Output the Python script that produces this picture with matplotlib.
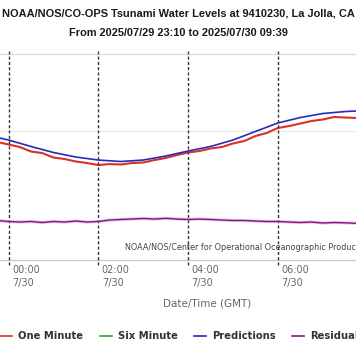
import matplotlib
matplotlib.use("Agg")
import matplotlib.pyplot as plt
import matplotlib.transforms as mtransforms
from matplotlib.lines import Line2D
import pandas as pd

# hours after 2025-07-30 00:00 GMT (visible part of the chart only)
pred_hours = [-0.2, 0.0, 0.5, 1.0, 1.5, 2.0, 2.5, 3.0, 3.5, 4.0, 4.5, 5.0,
              5.5, 6.0, 6.5, 7.0, 7.5, 7.75]
predictions = [2.909, 2.883, 2.799, 2.721, 2.662, 2.623, 2.604, 2.623, 2.675,
               2.740, 2.799, 2.883, 2.994, 3.104, 3.175, 3.227, 3.253, 3.260]

obs_hours = [-0.2, 0.0, 0.25, 0.5, 0.75, 1.0, 1.25, 1.5, 1.75, 2.0, 2.25, 2.5,
             2.75, 3.0, 3.25, 3.5, 3.75, 4.0, 4.25, 4.5, 4.75, 5.0, 5.25, 5.5,
             5.75, 6.0, 6.25, 6.5, 6.75, 7.0, 7.25, 7.5, 7.75]
one_minute = [2.851, 2.825, 2.792, 2.734, 2.714, 2.656, 2.636, 2.604, 2.584,
              2.558, 2.571, 2.565, 2.584, 2.591, 2.623, 2.649, 2.688, 2.721,
              2.740, 2.773, 2.792, 2.838, 2.870, 2.935, 2.974, 3.039, 3.065,
              3.097, 3.130, 3.149, 3.182, 3.175, 3.169]
residual = [-0.048, -0.058, -0.065, -0.058, -0.071, -0.058, -0.065, -0.052,
            -0.065, -0.058, -0.039, -0.032, -0.026, -0.019, -0.026, -0.017,
            -0.026, -0.032, -0.026, -0.032, -0.039, -0.045, -0.045, -0.052,
            -0.058, -0.058, -0.065, -0.071, -0.065, -0.078, -0.071, -0.075,
            -0.082]

tick_hours = [0, 2, 4, 6]
tick_labels = ["00:00", "02:00", "04:00", "06:00"]
tick_dates = ["7/30", "7/30", "7/30", "7/30"]

legend_names = ["One Minute", "Six Minute", "Predictions", "Residual"]
colors = {"One Minute": "#d9302b", "Six Minute": "#3a9a3a",
          "Predictions": "#2a2ab8", "Residual": "#7a1f7a"}

base = pd.Timestamp("2025-07-30 00:00")
def to_time(h):
    return base + pd.to_timedelta(h, unit="h")

W, H = 356, 364
fig = plt.figure(figsize=(W / 100, H / 100), dpi=100)
ax = fig.add_axes([0, 1 - 260 / H, 1, 206 / H])
ax.set_xlim(to_time(-0.19), to_time(7.74))
ax.set_ylim(1.325, 4.0)
for s in ax.spines.values():
    s.set_visible(False)
ax.set_xticks([])
ax.set_yticks([])
ax.axhline(3.0, color="#e6e6e6", lw=0.8, zorder=0)
ax.axhline(4.0, color="#dddddd", lw=1.0, zorder=0, clip_on=False)
ax.axhline(1.325, color="#cccccc", lw=1.0, zorder=0, clip_on=False)

ax.plot(to_time(pd.Series(obs_hours)), one_minute, color=colors["One Minute"], lw=1.5, zorder=3)
ax.plot(to_time(pd.Series(pred_hours)), predictions, color=colors["Predictions"], lw=1.2, zorder=4)

ax2 = ax.twinx()
ax2.set_ylim(-0.558, 2.117)
for s in ax2.spines.values():
    s.set_visible(False)
ax2.set_yticks([])
ax2.plot(to_time(pd.Series(obs_hours)), residual, color="#e070e0", lw=2.2, alpha=0.5)
ax2.plot(to_time(pd.Series(obs_hours)), residual, color=colors["Residual"], lw=1.0)

# dashed vertical markers and tick labels
xt = ax.get_xaxis_transform()
lab_tr = mtransforms.offset_copy(xt, fig=fig, x=3.5, y=0, units="dots")
for h, lab, d in zip(tick_hours, tick_labels, tick_dates):
    ax.vlines(to_time(h), -0.024, 1.015, transform=xt, colors="#333333",
              lw=1.0, linestyles=(0, (2.2, 1.6)), clip_on=False, zorder=5)
    ax.text(to_time(h), -0.05, lab, transform=lab_tr, ha="left", va="center",
            fontsize=7, color="#666666")
    ax.text(to_time(h), -0.113, d, transform=lab_tr, ha="left", va="center",
            fontsize=7, color="#666666")

fig.text(125 / W, 1 - 247 / H, "NOAA/NOS/Center for Operational Oceanographic Products and Services",
         ha="left", va="center", fontsize=5.8, color="#444444")

fig.text(178 / W, 1 - 14 / H, "NOAA/NOS/CO-OPS Tsunami Water Levels at 9410230, La Jolla, CA",
         ha="center", va="center", fontsize=7.9, fontweight="bold",
         family="Liberation Sans", color="#1a1a1a")
fig.text(178 / W, 1 - 33 / H, "From 2025/07/29 23:10 to 2025/07/30 09:39",
         ha="center", va="center", fontsize=7.9, fontweight="bold",
         family="Liberation Sans", color="#1a1a1a")

fig.text(207 / W, 1 - 304 / H, "Date/Time (GMT)", ha="center", va="center",
         fontsize=7.5, color="#666666")

# legend, laid out by hand
leg_y = 1 - 336 / H
handle_x = [0, 100, 194, 292]
for name, hx in zip(legend_names, handle_x):
    fig.add_artist(Line2D([hx / W, (hx + 12) / W], [leg_y, leg_y],
                          transform=fig.transFigure, color=colors[name], lw=1.2))
    fig.text((hx + 18) / W, leg_y, name, ha="left", va="center", fontsize=7.2,
             fontweight="bold", color="#333333")

fig.savefig("out.png", dpi=100)
